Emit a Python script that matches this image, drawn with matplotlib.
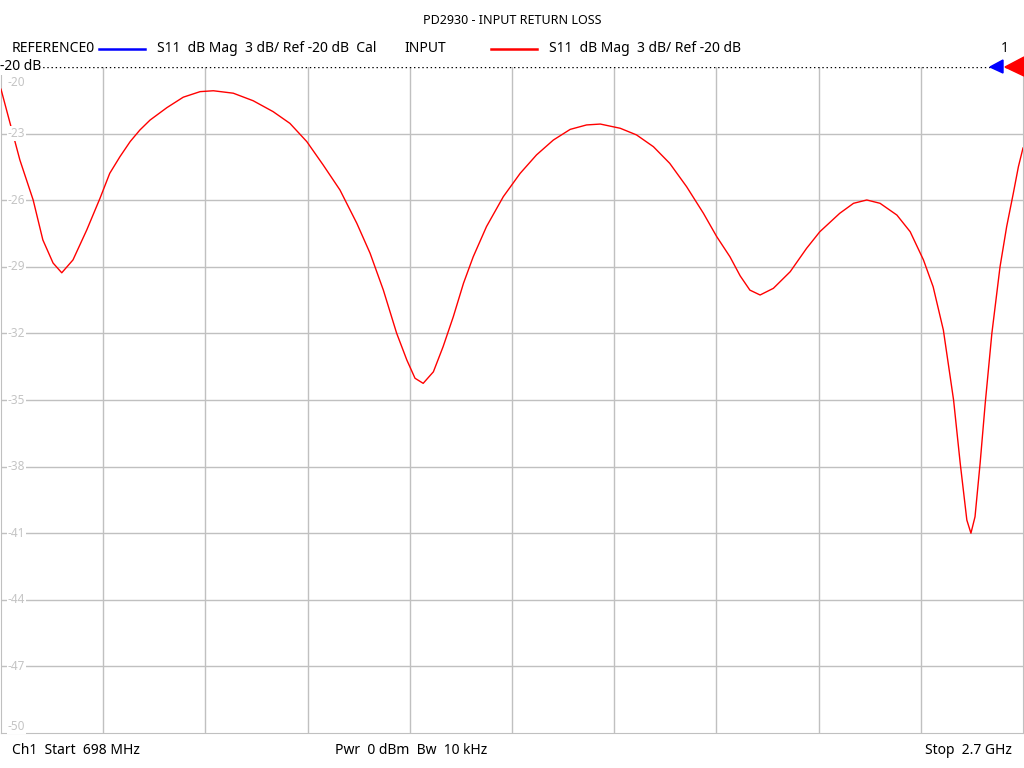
import numpy as np
import matplotlib.pyplot as plt
from matplotlib.patches import Polygon

plt.rcParams['font.family'] = ['Noto Sans', 'DejaVu Sans']

freq_mhz = [698, 735, 761, 780, 800, 817, 839, 866, 892, 911, 931, 951, 970, 990,
            1023, 1055, 1088, 1114, 1153, 1192, 1231, 1264, 1297, 1329, 1362, 1395,
            1421, 1447, 1473, 1493, 1509, 1525, 1545, 1564, 1584, 1604, 1623, 1649,
            1682, 1715, 1747, 1780, 1813, 1845, 1872, 1911, 1943, 1976, 2008, 2041,
            2074, 2100, 2126, 2146, 2165, 2185, 2211, 2244, 2276, 2302, 2341, 2368,
            2394, 2420, 2453, 2479, 2505, 2524, 2544, 2564, 2577, 2590, 2598, 2606,
            2616, 2626, 2639, 2655, 2668, 2681, 2691, 2700]
s11_db = [-21.0, -24.19, -25.99, -27.79, -28.83, -29.27, -28.69, -27.34, -25.91,
          -24.79, -24.04, -23.36, -22.84, -22.39, -21.83, -21.36, -21.11, -21.07,
          -21.18, -21.52, -22.01, -22.54, -23.36, -24.41, -25.54, -27.04, -28.39,
          -30.05, -31.99, -33.20, -34.02, -34.25, -33.73, -32.60, -31.25, -29.74,
          -28.55, -27.19, -25.84, -24.79, -23.96, -23.29, -22.81, -22.61, -22.57,
          -22.76, -23.06, -23.59, -24.34, -25.39, -26.59, -27.64, -28.55, -29.41,
          -30.05, -30.27, -29.97, -29.22, -28.17, -27.42, -26.59, -26.14, -25.99,
          -26.14, -26.67, -27.42, -28.69, -29.90, -31.85, -35.00, -37.85, -40.41,
          -41.00, -40.26, -37.85, -35.15, -32.00, -29.00, -27.19, -25.69, -24.49,
          -23.65]

f_start, f_stop = 698, 2700
ref_db = -20
niveaux = [-20, -23, -26, -29, -32, -35, -38, -41, -44, -47, -50]

W, H = 1024, 768
def fx(px):
    return px / W
def fy(py):
    return 1 - py / H

fig = plt.figure(figsize=(W / 100, H / 100), dpi=100)
ax = fig.add_axes([fx(1), fy(733), fx(1022), (733 - 67) / H])

grille = '#c0c0c0'
ax.plot(freq_mhz, s11_db, color='#ff0000', lw=1.0, zorder=3)
ax.set_xlim(f_start, f_stop)
ax.set_ylim(-50, -20)
pas = (f_stop - f_start) / 10
ax.set_xticks([f_start + i * pas for i in range(1, 10)])
ax.set_yticks(niveaux[1:-1])
ax.grid(True, color=grille, lw=1)
ax.tick_params(length=0, labelleft=False, labelbottom=False)
for cote in ['left', 'right', 'bottom']:
    ax.spines[cote].set_color(grille)
ax.spines['top'].set_visible(False)
ax.axhline(ref_db, color='black', ls=(0, (1, 2)), lw=1, zorder=4)

# étiquettes de l'axe Y dans le tracé
for n in niveaux:
    y_px = 67 + (ref_db - n) / 30 * 666
    va = 'center'
    if n == -20:
        y_px, va = 76, 'top'
    elif n == -50:
        y_px = 727
    fig.text(fx(8), fy(y_px), str(n), color='#c4c4c4', fontsize=8.5, va=va,
             ha='left', bbox=dict(facecolor='white', edgecolor='none', pad=0.5))

fig.text(fx(0), fy(67), '-20 dB', fontsize=10, va='center', ha='left',
         bbox=dict(facecolor='white', edgecolor='none', pad=0.3))

# en-tête
fig.text(0.5, fy(21), 'PD2930 - INPUT RETURN LOSS', fontsize=9, ha='center', va='center')
fig.text(fx(12), fy(49), 'REFERENCE0', fontsize=10, va='center')
fig.add_artist(plt.Line2D([fx(99), fx(145)], [fy(49), fy(49)], color='#0000ff', lw=1.8))
fig.text(fx(157), fy(49), 'S11  dB Mag  3 dB/ Ref -20 dB  Cal', fontsize=10, va='center')
fig.text(fx(404), fy(49), 'INPUT', fontsize=10, va='center')
fig.add_artist(plt.Line2D([fx(491), fx(537)], [fy(49), fy(49)], color='#ff0000', lw=1.8))
fig.text(fx(549), fy(49), 'S11  dB Mag  3 dB/ Ref -20 dB', fontsize=10, va='center')
fig.text(fx(1005), fy(49), '1', fontsize=10, va='center', ha='center')

# marqueurs de référence
fig.add_artist(Polygon([(fx(990), fy(67)), (fx(1003), fy(60)), (fx(1003), fy(73))],
                       closed=True, color='#0000ff'))
fig.add_artist(Polygon([(fx(1005), fy(67)), (fx(1024), fy(57)), (fx(1024), fy(76))],
                       closed=True, color='#ff0000'))

# pied de page
fig.text(fx(12), fy(751), 'Ch1  Start  698 MHz', fontsize=10, va='center')
fig.text(fx(335), fy(751), 'Pwr  0 dBm  Bw  10 kHz', fontsize=10, va='center')
fig.text(fx(1012), fy(751), 'Stop  2.7 GHz', fontsize=10, va='center', ha='right')

fig.savefig('out.png', dpi=100)
